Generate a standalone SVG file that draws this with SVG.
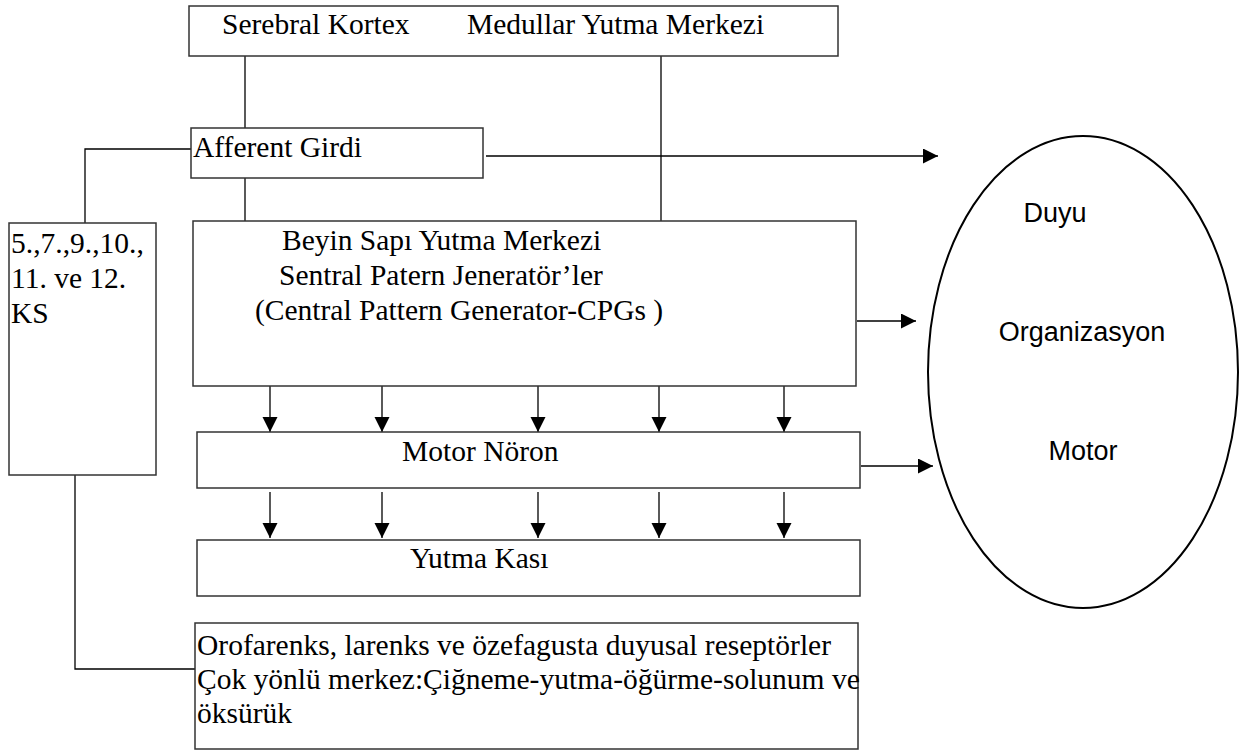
<svg xmlns="http://www.w3.org/2000/svg" width="1248" height="754" viewBox="0 0 1248 754">
<style>
.box{fill:#fff;stroke:#333;stroke-width:1.5}
.t{font-family:"Liberation Serif","Times New Roman",serif;font-size:29.5px;fill:#000}
.s{font-family:"Liberation Sans",Arial,sans-serif;font-size:27px;fill:#000;text-anchor:middle}
.ln{fill:none;stroke:#000;stroke-width:1.3}
.ar{fill:none;stroke:#000;stroke-width:1.3;marker-end:url(#ah)}
</style>
<defs>
<marker id="ah" markerUnits="userSpaceOnUse" markerWidth="16" markerHeight="16" refX="15" refY="7.5" orient="auto">
<path d="M0,0 L15,7.5 L0,15 z" fill="#000"/>
</marker>
</defs>
<rect width="1248" height="754" fill="#fff"/>
<g id="connectors">
<path class="ln" d="M245,56 V128"/>
<path class="ln" d="M661,56 V221"/>
<path class="ln" d="M245,178 V221"/>
<path class="ln" d="M191,149 H85 V223"/>
<path class="ln" d="M75,475 V669 H195"/>
<path class="ar" d="M486,156 H938"/>
<path class="ar" d="M857,321 H916"/>
<path class="ar" d="M861,466 H933"/>
<path class="ar" d="M270,386 V432"/>
<path class="ar" d="M382,386 V432"/>
<path class="ar" d="M538,386 V432"/>
<path class="ar" d="M659,386 V432"/>
<path class="ar" d="M784,386 V432"/>
<path class="ar" d="M270,492 V538"/>
<path class="ar" d="M382,492 V538"/>
<path class="ar" d="M538,492 V538"/>
<path class="ar" d="M659,492 V538"/>
<path class="ar" d="M784,492 V538"/>
</g>
<g id="top">
<rect class="box" x="189" y="6" width="649" height="50"/>
<text class="t" x="222" y="34">Serebral Kortex</text>
<text class="t" x="467" y="34">Medullar Yutma Merkezi</text>
</g>
<g id="afferent">
<rect class="box" x="191" y="128" width="292" height="50"/>
<text class="t" x="193" y="157">Afferent Girdi</text>
</g>
<g id="ks">
<rect class="box" x="9" y="223" width="147" height="252"/>
<text class="t" x="11" y="253">5.,7.,9.,10.,</text>
<text class="t" x="11" y="288">11. ve 12.</text>
<text class="t" x="11" y="323">KS</text>
</g>
<g id="beyin">
<rect class="box" x="193" y="221" width="663" height="165"/>
<text class="t" x="282" y="250">Beyin Sapı Yutma Merkezi</text>
<text class="t" x="279" y="285">Sentral Patern Jeneratör’ler</text>
<text class="t" x="255" y="320">(Central Pattern Generator-CPGs )</text>
</g>
<g id="motor">
<rect class="box" x="197" y="432" width="663" height="56"/>
<text class="t" x="402" y="461">Motor Nöron</text>
</g>
<g id="kas">
<rect class="box" x="197" y="540" width="663" height="56"/>
<text class="t" x="410" y="568">Yutma Kası</text>
</g>
<g id="orofarenks">
<rect class="box" x="195" y="623" width="663" height="126"/>
<text class="t" x="197" y="655">Orofarenks, larenks ve özefagusta duyusal reseptörler</text>
<text class="t" x="197" y="689">Çok yönlü merkez:Çiğneme-yutma-öğürme-solunum ve</text>
<text class="t" x="197" y="723">öksürük</text>
</g>
<g id="organizasyon">
<ellipse cx="1083" cy="372" rx="155" ry="236" fill="#fff" stroke="#000" stroke-width="2"/>
<text class="s" x="1055" y="222">Duyu</text>
<text class="s" x="1082" y="341">Organizasyon</text>
<text class="s" x="1083" y="460">Motor</text>
</g>
</svg>
